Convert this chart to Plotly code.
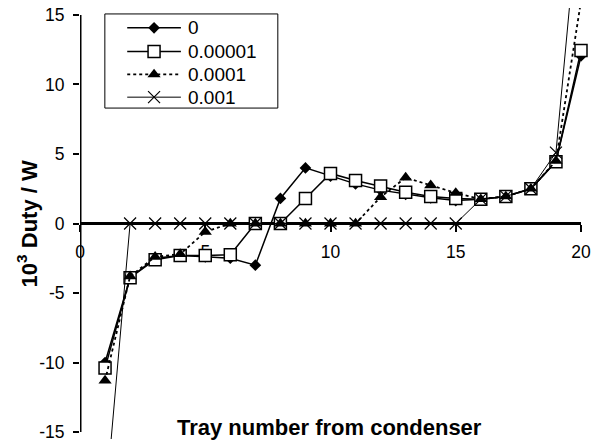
import plotly.graph_objects as go

# Tray-by-tray duty profiles for four side-stream fractions
trays = list(range(1, 21))
fractions = ["0", "0.00001", "0.0001", "0.001"]

duty_0 = [-10.0, -3.9, -2.5, -2.3, -2.4, -2.5, -3.0, 1.8, 4.0, 3.4,
          2.85, 2.4, 2.1, 1.85, 1.65, 1.75, 1.95, 2.5, 4.45, 12.05]
duty_1e5 = [-10.4, -3.9, -2.6, -2.3, -2.3, -2.25, 0.0, 0.0, 1.8, 3.6,
            3.1, 2.7, 2.25, 1.95, 1.8, 1.75, 1.95, 2.5, 4.45, 12.45]
duty_1e4 = [-11.3, -3.8, -2.4, -2.2, -0.6, 0.0, 0.0, 0.0, 0.0, 0.0,
            0.0, 1.9, 3.3, 2.75, 2.2, 1.75, 1.95, 2.5, 4.5, 16.0]
duty_1e3 = [-20.5, 0.0, 0.0, 0.0, 0.0, 0.0, 0.0, 0.0, 0.0, 0.0,
            0.0, 0.0, 0.0, 0.0, 0.0, 1.75, 1.95, 2.5, 5.1, 24.5]

x_ticks = [0, 5, 10, 15, 20]
y_ticks = [-15, -10, -5, 0, 5, 10, 15]

FONT = "Arial, Liberation Sans, sans-serif"
W, H = 596, 447
MARGIN = dict(l=80, r=12, t=7, b=5)

styles = [
    dict(marker=dict(symbol="diamond", size=9, color="black"),
         line=dict(color="black", width=1.5)),
    dict(marker=dict(symbol="square", size=12, color="white",
                     line=dict(color="black", width=1.5)),
         line=dict(color="black", width=1.5)),
    dict(marker=dict(symbol="triangle-up", size=11.5, color="black"),
         line=dict(color="black", width=1.8, dash="dot")),
    dict(marker=dict(symbol="x-thin-open", size=12, color="black",
                     line=dict(color="black", width=1.2)),
         line=dict(color="black", width=1)),
]

fig = go.Figure()
for name, values, st in zip(fractions, [duty_0, duty_1e5, duty_1e4, duty_1e3], styles):
    fig.add_trace(go.Scatter(
        x=trays, y=values, name=name, mode="lines+markers",
        marker=st["marker"], line=st["line"], cliponaxis=False,
        showlegend=False,
    ))

# Axis lines crossing at the origin
fig.add_shape(type="line", xref="x", yref="y", x0=0, x1=0,
              y0=y_ticks[0], y1=y_ticks[-1],
              line=dict(color="black", width=3), layer="below")
fig.add_shape(type="line", xref="x", yref="y", x0=x_ticks[0], x1=x_ticks[-1],
              y0=0, y1=0, line=dict(color="black", width=3), layer="below")

# Key box drawn on an overlay axis pair measured in screen pixels
KEY_BOX = (105, 13, 279, 108)
KEY_ROWS = [27, 51, 74, 97]
KEY_LINE = (127.5, 181.5)
KEY_TEXT_X = 187

fig.add_shape(type="rect", xref="x2", yref="y2",
              x0=KEY_BOX[0], x1=KEY_BOX[2], y0=KEY_BOX[1], y1=KEY_BOX[3],
              line=dict(color="black", width=1), fillcolor="white", layer="below")
key_annotations = []
for name, row, st in zip(fractions, KEY_ROWS, styles):
    fig.add_trace(go.Scatter(
        x=list(KEY_LINE), y=[row, row], mode="lines", line=st["line"],
        xaxis="x2", yaxis="y2", showlegend=False, hoverinfo="skip",
    ))
    fig.add_trace(go.Scatter(
        x=[(KEY_LINE[0] + KEY_LINE[1]) / 2], y=[row], mode="markers",
        marker=st["marker"], xaxis="x2", yaxis="y2", showlegend=False,
        hoverinfo="skip",
    ))
    key_annotations.append(dict(
        text=name, xref="x2", yref="y2", x=KEY_TEXT_X, y=row,
        xanchor="left", yanchor="middle", showarrow=False,
        font=dict(size=19, family=FONT),
    ))

fig.update_layout(
    width=W, height=H,
    margin=MARGIN,
    paper_bgcolor="white", plot_bgcolor="white",
    font=dict(family=FONT, color="black"),
    showlegend=False,
    xaxis=dict(
        range=[0, 20], anchor="free", position=0.5,
        tickvals=x_ticks, ticktext=[str(v) for v in x_ticks],
        ticks="outside", ticklen=7, tickwidth=2, tickcolor="black",
        showline=False, showgrid=False, zeroline=False,
        tickfont=dict(size=17.5, family=FONT), ticklabelstandoff=5,
        layer="below traces",
    ),
    yaxis=dict(
        range=[-15.5, 15.5], domain=[0, 1],
        tickvals=y_ticks, ticktext=[str(v) for v in y_ticks],
        ticks="outside", ticklen=6, tickwidth=2, tickcolor="black",
        showline=False, showgrid=False, zeroline=False,
        tickfont=dict(size=17.5, family=FONT), ticklabelstandoff=5,
    ),
    xaxis2=dict(range=[MARGIN["l"], W - MARGIN["r"]], overlaying="x",
                anchor="y2", visible=False, fixedrange=True),
    yaxis2=dict(range=[H - MARGIN["b"], MARGIN["t"]], overlaying="y",
                anchor="x2", visible=False, fixedrange=True),
    annotations=[
        dict(text="<b>10<sup>3</sup> Duty / W</b>", xref="paper", yref="paper",
             x=-0.106, y=0.5, textangle=-90, showarrow=False,
             xanchor="center", yanchor="middle",
             font=dict(size=22, family=FONT)),
        dict(text="<b>Tray number from condenser</b>", xref="paper", yref="paper",
             x=0.498, y=0.027, showarrow=False,
             xanchor="center", yanchor="middle",
             font=dict(size=22, family=FONT)),
    ] + key_annotations,
)

fig.write_html("out.html")
